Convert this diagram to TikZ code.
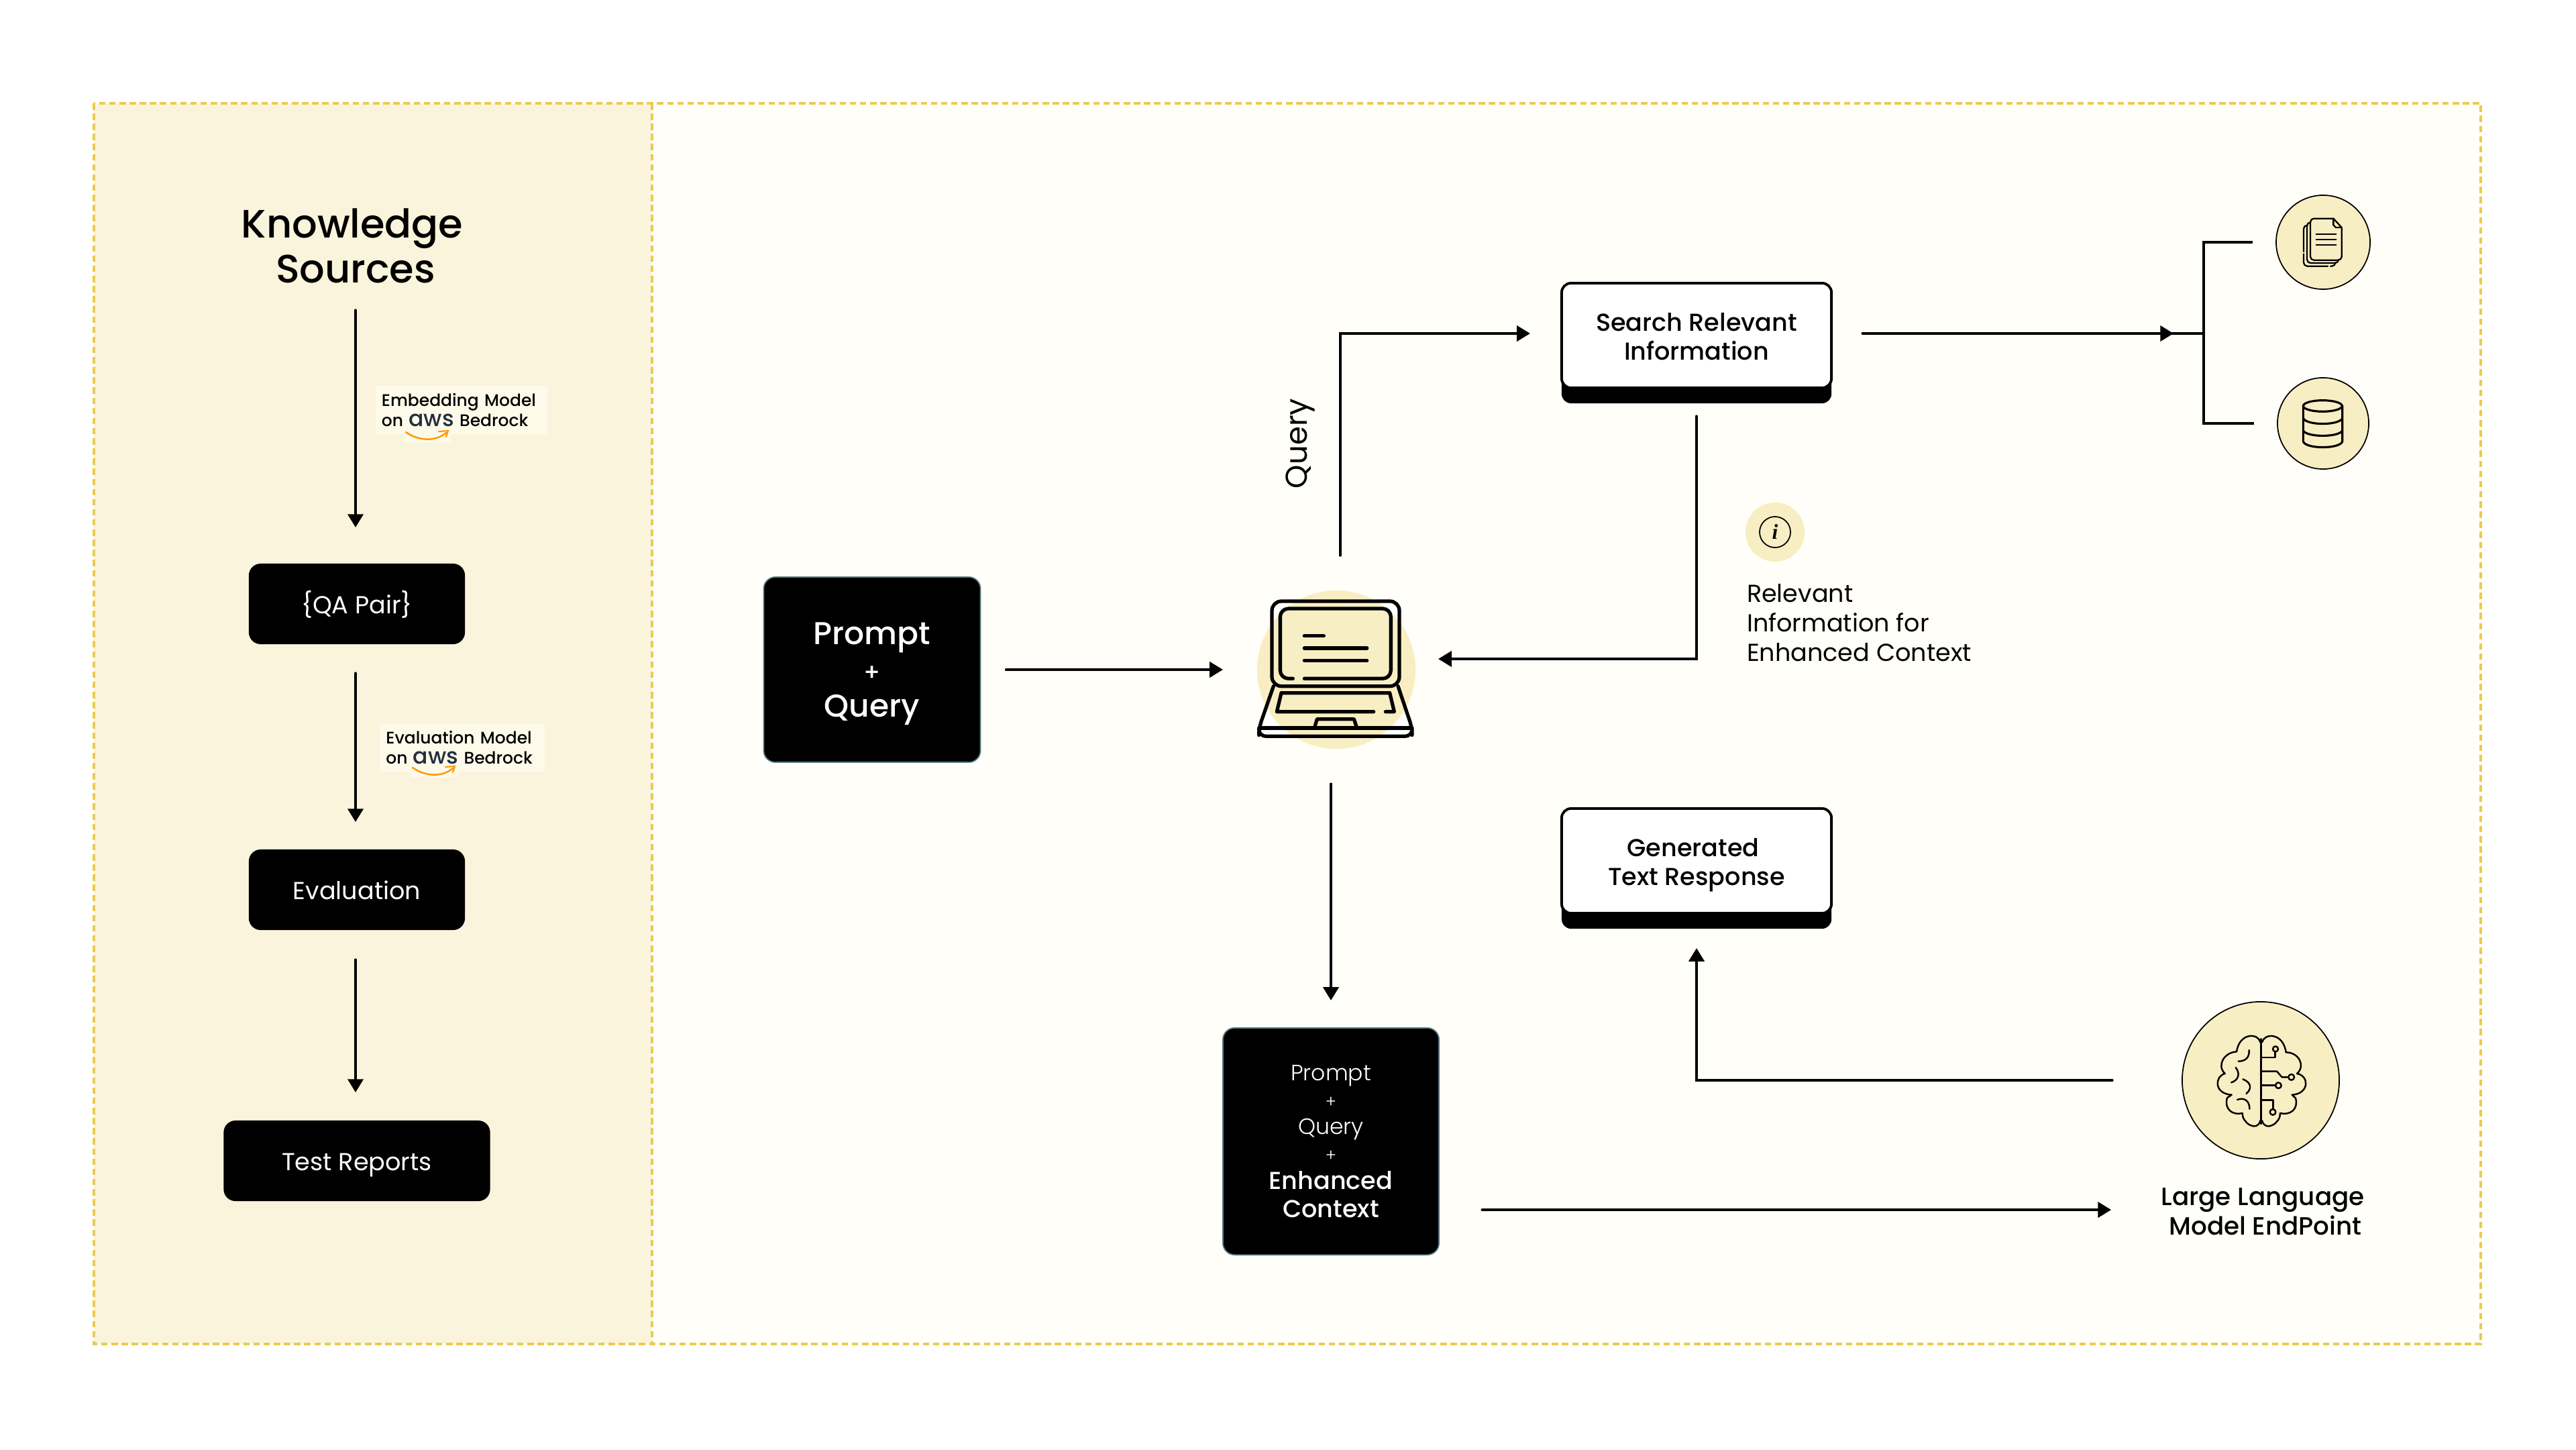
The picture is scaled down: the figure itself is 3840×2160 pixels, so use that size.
\documentclass[tikz,border=0pt]{standalone}
\usepackage{fontspec}
\usepackage{xcolor}
\setmainfont{Poppins}
\newfontfamily\medfont{Poppins Medium}
\newfontfamily\lightfont{Poppins Light}
\newfontfamily\infofont{Liberation Serif}[Scale=1]
\usetikzlibrary{calc,arrows.meta,shadows}
\definecolor{pagecream}{HTML}{FFFEF8}
\definecolor{panelcream}{HTML}{FBF4DC}
\definecolor{labelcream}{HTML}{FDFAEA}
\definecolor{iconcream}{HTML}{F8EEC3}
\definecolor{dashyellow}{HTML}{EBCB4E}
\definecolor{slateedge}{HTML}{5B7C85}
\definecolor{awsink}{HTML}{232F3E}
\definecolor{awsorange}{HTML}{FF9900}
\tikzset{
  conn/.style={line width=0.95pt,line cap=round},
  arr/.style={conn,-{Triangle[length=5.6pt,width=6.6pt]}},
  panel edge/.style={draw=dashyellow,line width=1pt,dash pattern=on 2.7pt off 1.6pt},
  blackbox/.style={fill=black,rounded corners=5pt,text=white,align=center,inner sep=0pt,outer sep=0pt},
  stepbox/.style={blackbox,minimum height=1.2cm,text height=9.9pt,text depth=1.7pt,font=\fontsize{10.4}{12}\selectfont},
  tallbox/.style={blackbox,draw=slateedge,line width=0.5pt},
  lipbox/.style={draw=black,fill=white,line width=1.1pt,rounded corners=4pt,align=center,inner sep=0pt,outer sep=0pt,
    minimum width=4.02cm,minimum height=1.56cm,general shadow={fill=black,shadow yshift=-0.23cm},
    font=\fontsize{10.4}{12.2}\selectfont\medfont},
  modellabel/.style={fill=labelcream,align=left,inner ysep=0pt,inner xsep=0.09cm,outer sep=0pt,minimum height=0.71cm,
    font=\fontsize{7.1}{8.3}\selectfont\medfont},
  iconcircle/.style={circle,draw=black,fill=iconcream,line width=0.5pt,inner sep=0pt,outer sep=0pt},
  laptopline/.style={line width=1.5pt,line cap=round,line join=round},
  docline/.style={line width=0.65pt,line cap=round,line join=round},
  dbline/.style={line width=0.9pt,line cap=round,line join=round},
  brainline/.style={line width=0.7pt,line cap=round,line join=round},
}
\newcommand{\awsword}{{\fontsize{9.4}{8.3}\selectfont\color{awsink}aws}}
\begin{document}
\begin{tikzpicture}[x=0.01cm,y=-0.01cm]
\useasboundingbox (0,0) rectangle (3840,2160);
\fill[white] (0,0) rectangle (3840,2160);
\fill[pagecream] (140,154) rectangle (3698,2003);
\fill[panelcream] (140,154) rectangle (972,2003);
\draw[panel edge] (140,154) rectangle (3698,2003);
\draw[panel edge] (972,154) -- (972,2003);

\node (title) [align=center,inner sep=0pt,outer sep=0pt,minimum height=1.2cm,font=\fontsize{16.8}{19}\selectfont\medfont] at (530,366) {Knowledge\hspace*{0.1cm}\\Sources};
\node (qa) [stepbox,minimum width=3.22cm] at (532,900) {\{QA Pair\}};
\node (evaluation) [stepbox,minimum width=3.22cm] at (532,1326) {Evaluation};
\node (reports) [stepbox,minimum width=3.97cm] at (532,1730) {Test Reports};
\node (embedlabel) [modellabel,text width=2.38cm] at (688,611) {Embedding Model\\on \awsword{} Bedrock};
\fill[labelcream] (602,640) rectangle (672,659);
\draw[awsorange,line width=0.7pt,line cap=round] (605,644) .. controls (625,658) and (650,658) .. (665,645);
\draw[awsorange,line width=0.6pt,line cap=round] (654,643) -- (668,642) -- (665,651);
\node (evallabel) [modellabel,text width=2.27cm] at (689,1114) {Evaluation Model\\on \awsword{} Bedrock};
\fill[labelcream] (612,1140) rectangle (682,1159);
\draw[awsorange,line width=0.7pt,line cap=round] (615,1144) .. controls (635,1158) and (660,1158) .. (675,1145);
\draw[awsorange,line width=0.6pt,line cap=round] (664,1143) -- (678,1142) -- (675,1151);

\draw[arr,shorten <=0.36cm,shorten >=0.54cm] (title.south -| 530,0) -- (qa.north -| 530,0);
\draw[arr,shorten <=0.43cm,shorten >=0.41cm] (qa.south -| 530,0) -- (evaluation.north -| 530,0);
\draw[arr,shorten <=0.44cm,shorten >=0.42cm] (evaluation.south -| 530,0) -- (reports.north -| 530,0);

\node (prompt) [tallbox,minimum width=3.23cm,minimum height=2.76cm,font=\fontsize{13.4}{15.4}\selectfont\medfont] at (1300,998) {\rule{0pt}{12.8pt}Prompt\\{\fontsize{10}{14.8}\selectfont +}\\Query};
\node (laptop) [circle,fill=iconcream,minimum size=2.36cm,inner sep=0pt,outer sep=0pt] at (1992,998) {};
\begin{scope}[shift={(1800,840)},scale=1/3]
\def\laptopoutline{(288,168) rectangle (858,548) (290,548) -- (230,735) -- (230,772) -- (915,772) -- (915,735) -- (860,548) -- cycle}
\fill[white] \laptopoutline;
\begin{scope}
\clip \laptopoutline;
\fill[iconcream] (576,474) circle [radius=354];
\end{scope}
\draw[laptopline,rounded corners=4pt] (288,168) rectangle (858,548);
\draw[laptopline,rounded corners=3.5pt] (382,514) -- (325,514) -- (325,201) -- (820,201) -- (820,514) -- (433,514);
\draw[laptopline] (433,323) -- (520,323);
\draw[laptopline] (433,378) -- (713,378);
\draw[laptopline] (433,433) -- (713,433);
\draw[laptopline,rounded corners=3pt] (295,548) -- (230,735) -- (230,772) -- (915,772) -- (915,735) -- (852,548);
\draw[laptopline] (230,735) -- (915,735);
\draw[laptopline,line join=round] (743,662) -- (310,662) -- (330,578) -- (815,578) -- (835,662) -- (796,662);
\draw[laptopline] (478,735) -- (490,695) -- (655,695) -- (668,735);
\end{scope}
\draw[arr,shorten <=0.38cm,shorten >=0.51cm] (prompt.east) -- (laptop.west);

\node (search) [lipbox] at (2529,500) {\rule{0pt}{8.6pt}Search Relevant\\Information};
\node (generated) [lipbox] at (2529,1283) {\rule{0pt}{11.4pt}Generated\hspace*{0.1cm}\\Text Response};
\coordinate (queryout) at (1998,828);
\draw[arr,shorten >=0.47cm] (queryout) |- ($(search.west)+(0,-3)$);
\node (querylabel) [rotate=90,inner sep=0pt,outer sep=0pt,font=\fontsize{12.8}{14}\selectfont] at (1938,661) {Query};

\node (docs) [iconcircle,minimum size=1.4cm] at (3463,361) {};
\node (db) [iconcircle,minimum size=1.36cm] at (3463,631) {};
\coordinate (branch) at (3285,497);
\draw[arr,shorten <=0.46cm,shorten >=0.45cm] ($(search.east)+(0,-3)$) -- (branch);
\draw[conn] ($(branch)+(-60,0)$) -- (branch);
\draw[conn,line width=1pt,line cap=butt,shorten <=0.35cm,shorten >=0.35cm] (docs.west) -| (branch) |- (db.west);
\begin{scope}[shift={(3250,260)},scale=1/3]
\draw[docline,rounded corners=1.5pt] (685,197) -- (582,197) -- (582,383) -- (722,383) -- (722,237);
\draw[docline] (685,197) -- (722,237) -- (696,237) -- (685,226) -- cycle;
\draw[docline] (608,267) -- (697,267);
\draw[docline] (608,291) -- (697,291);
\draw[docline] (608,315) -- (697,315);
\draw[docline,rounded corners=1.5pt] (580,214) -- (567,214) -- (567,396) -- (708,396) -- (708,385);
\draw[docline,rounded corners=1.5pt] (566,227) -- (552,227) -- (552,345);
\draw[docline,rounded corners=1.5pt] (552,355) -- (552,410) -- (660,410);
\draw[docline,rounded corners=1.5pt] (672,410) -- (694,410) -- (694,398);
\draw[dbline] (637,1035) ellipse [x radius=87,y radius=25];
\draw[dbline] (550,1035) -- (550,1195) .. controls (565,1228) and (710,1228) .. (725,1195) -- (725,1035);
\draw[dbline] (550,1090) .. controls (565,1123) and (710,1123) .. (725,1090);
\draw[dbline] (550,1145) .. controls (565,1176) and (710,1176) .. (725,1145);
\end{scope}

\draw[arr,shorten <=0.42cm,shorten >=0.34cm] (search.south) |- ($(laptop.east)+(0,-16)$);
\node (info) [circle,fill=iconcream,minimum size=0.88cm,inner sep=0pt,outer sep=0pt] at (2646,793) {};
\node (infoi) [circle,draw=black,line width=0.5pt,minimum size=0.46cm,inner sep=0pt,outer sep=0pt,font=\fontsize{9}{9}\selectfont\infofont\bfseries\itshape] at (info) {i};
\node (infotext) [anchor=north west,align=left,inner sep=0pt,outer sep=0pt,font=\fontsize{10.4}{12.6}\selectfont] at (2604,870) {Relevant\\Information for\\Enhanced Context};

\node (enhanced) [tallbox,minimum width=3.22cm,minimum height=3.38cm,font=\fontsize{9.4}{11.4}\selectfont\lightfont] at (1984,1701) {Prompt\\{\fontsize{7}{11.4}\selectfont +}\\Query\\{\fontsize{7}{11.4}\selectfont +}\\[0.6pt]{\fontsize{10.4}{12.2}\selectfont\medfont Enhanced}\\[0.5pt]{\fontsize{10.4}{12.2}\selectfont\medfont Context}};
\draw[arr,shorten <=0.52cm,shorten >=0.41cm] (laptop.south -| enhanced.north) -- (enhanced.north);

\node (llm) [iconcircle,minimum size=2.34cm] at (3370,1610) {};
\node (llmlabel) [align=center,inner sep=0pt,outer sep=0pt,font=\fontsize{10.6}{12.5}\selectfont\medfont] at (3373,1806) {Large Language\\\hspace*{0.08cm}Model EndPoint};
\begin{scope}[shift={(3200,1460)},scale=1/3]
\draw[brainline] (512,265) -- (512,645);
\draw[brainline] (508,280) .. controls (500,238) and (415,235) .. (402,322) .. controls (345,325) and (312,385) .. (350,420) .. controls (305,430) and (298,510) .. (380,515) -- (360,528) .. controls (345,580) and (385,608) .. (428,597) .. controls (425,640) and (495,685) .. (508,630);
\draw[brainline] (516,280) .. controls (525,238) and (610,235) .. (623,325) .. controls (680,325) and (712,385) .. (672,420) .. controls (728,430) and (728,510) .. (650,515) -- (666,530) .. controls (680,580) and (640,608) .. (597,597) .. controls (600,640) and (530,685) .. (516,630);
\draw[brainline] (458,315) .. controls (460,350) and (440,365) .. (410,365);
\draw[brainline] (398,393) .. controls (420,420) and (410,450) .. (378,460);
\draw[brainline] (430,445) .. controls (470,460) and (470,490) .. (445,510);
\draw[brainline] (405,537) .. controls (435,525) and (460,540) .. (460,578);
\draw[brainline] (515,348) -- (575,348) -- (575,322);
\draw[brainline] (576,310) circle [radius=12];
\draw[brainline] (515,410) -- (582,410) -- (605,436) -- (634,436);
\draw[brainline] (647,436) circle [radius=13];
\draw[brainline] (515,473) -- (576,473);
\draw[brainline] (589,473) circle [radius=13];
\draw[brainline] (515,538) -- (565,538) -- (565,579);
\draw[brainline] (564,592) circle [radius=13];
\end{scope}
\coordinate (llmin) at (3147,1803);
\draw[arr,shorten <=0.64cm] ($(enhanced.east)+(0,102)$) -- (llmin);
\draw[arr,shorten <=1.04cm,shorten >=0.52cm] (llm.west) -| (generated.south);
\end{tikzpicture}
\end{document}
